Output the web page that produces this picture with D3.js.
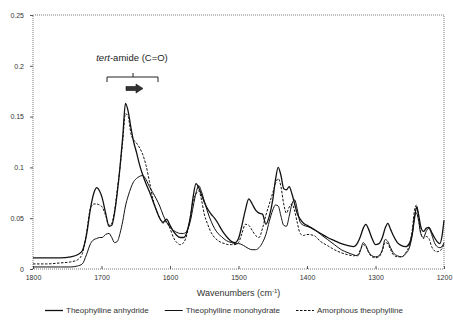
<!DOCTYPE html>
<html>
<head>
<meta charset="utf-8">
<script src="https://cdn.jsdelivr.net/npm/d3@7"></script>
<style>
  body { margin: 0; background: #fff; }
  svg { font-family: "Liberation Sans", Arial, sans-serif; }
  .axis text { fill: #333; font-size: 7px; }
  .axis line { stroke: #555; }
</style>
</head>
<body>
<div id="chart"></div>
<script>
// wavenumber grid (cm-1)
var wavenumbers = [1800, 1780, 1760, 1745, 1735, 1728, 1722, 1716, 1711, 1707, 1703, 1699, 1694, 1689, 1685, 1681, 1677, 1673, 1669, 1665,
  1661, 1657, 1653, 1649, 1645, 1640, 1635, 1630, 1625, 1620, 1615, 1610, 1605, 1600, 1595, 1590, 1585, 1580, 1575, 1570,
  1566, 1562, 1558, 1554, 1550, 1545, 1540, 1535, 1530, 1525, 1520, 1515, 1510, 1505, 1500, 1495, 1490, 1485, 1480, 1475,
  1470, 1465, 1460, 1455, 1450, 1446, 1442, 1438, 1434, 1430, 1426, 1422, 1418, 1414, 1410, 1405, 1400, 1390, 1380, 1370,
  1360, 1350, 1340, 1332, 1326, 1322, 1318, 1314, 1310, 1305, 1300, 1295, 1290, 1286, 1282, 1278, 1274, 1268, 1262, 1256,
  1250, 1246, 1243, 1240, 1237, 1234, 1230, 1226, 1222, 1218, 1214, 1210, 1206, 1203, 1200];

var anhydride = [.011, .011, .011, .012, .014, .018, .033, .060, .075, .080, .077, .070, .055, .042, .043, .055, .075, .100, .130, .163,
  .155, .139, .125, .115, .104, .093, .084, .076, .067, .058, .050, .046, .049, .043, .037, .033, .031, .031, .037, .052,
  .072, .084, .080, .073, .066, .059, .054, .050, .045, .039, .034, .030, .027, .026, .030, .043, .058, .069, .064, .058,
  .055, .054, .044, .052, .068, .088, .100, .092, .079, .078, .081, .074, .064, .054, .049, .045, .043, .039, .035, .031,
  .028, .025, .023, .022, .026, .032, .040, .044, .039, .030, .024, .025, .031, .040, .045, .039, .033, .026, .023, .022,
  .026, .036, .050, .061, .053, .042, .037, .040, .041, .036, .031, .027, .025, .032, .048];

var monohydrate = [.002, .002, .002, .002, .003, .005, .014, .025, .029, .030, .031, .031, .034, .035, .031, .026, .027, .035, .047, .062,
  .072, .080, .086, .089, .091, .092, .088, .081, .075, .069, .062, .053, .046, .041, .038, .036, .035, .035, .038, .048,
  .062, .075, .082, .076, .067, .056, .047, .040, .035, .032, .029, .027, .026, .025, .025, .024, .022, .020, .019, .019,
  .021, .026, .034, .047, .058, .063, .062, .052, .043, .042, .052, .064, .068, .058, .046, .043, .042, .039, .034, .029,
  .024, .019, .016, .014, .013, .018, .026, .023, .017, .013, .012, .013, .019, .029, .027, .021, .016, .013, .012, .015,
  .022, .035, .052, .055, .047, .035, .031, .037, .040, .034, .026, .022, .021, .022, .026];

var amorphous = [.005, .005, .006, .007, .009, .015, .035, .060, .064, .064, .063, .061, .053, .043, .045, .057, .078, .100, .126, .153,
  .150, .133, .127, .124, .120, .113, .102, .086, .069, .058, .050, .045, .047, .040, .031, .026, .024, .026, .035, .053,
  .068, .074, .077, .068, .054, .044, .036, .031, .028, .026, .025, .024, .024, .024, .026, .035, .044, .043, .038, .033,
  .031, .040, .053, .064, .075, .084, .089, .081, .064, .055, .061, .064, .057, .045, .035, .033, .034, .033, .027, .023,
  .019, .016, .014, .013, .014, .019, .024, .022, .016, .012, .011, .012, .018, .026, .025, .019, .014, .012, .012, .016,
  .025, .040, .058, .063, .050, .036, .030, .032, .030, .022, .018, .017, .018, .020, .025];

var xTicks = [1800, 1700, 1600, 1500, 1400, 1300, 1200];
var yTicks = [0, 0.05, 0.1, 0.15, 0.2, 0.25];
var yTickLabels = ["0", "0.05", "0.1", "0.15", "0.2", "0.25"];

var seriesNames = ["Theophylline anhydride", "Theophylline monohydrate", "Amorphous theophylline"];

var W = 453, H = 323;
var svg = d3.select("#chart").append("svg").attr("width", W).attr("height", H);

var x = d3.scaleLinear().domain([1800, 1200]).range([33, 444]);
var y = d3.scaleLinear().domain([0, 0.25]).range([269, 15]);

// plot area frame (dotted like the scan)
svg.append("rect")
    .attr("x", x(1800)).attr("y", y(0.25))
    .attr("width", x(1200) - x(1800)).attr("height", y(0) - y(0.25))
    .attr("fill", "none").attr("stroke", "#555").attr("stroke-width", 0.8)
    .attr("stroke-dasharray", "1,1");

var yAxis = svg.append("g").attr("class", "axis")
    .attr("transform", "translate(" + x(1800) + ",0)")
    .call(d3.axisLeft(y).tickValues(yTicks).tickSize(3).tickPadding(6)
        .tickFormat(function(d, i) { return yTickLabels[i]; }));
yAxis.select(".domain").remove();

var xAxis = svg.append("g").attr("class", "axis")
    .attr("transform", "translate(0," + y(0) + ")")
    .call(d3.axisBottom(x).tickValues(xTicks).tickSize(-3).tickPadding(6)
        .tickFormat(d3.format("d")));
xAxis.select(".domain").remove();

// series
var series = [
  {name: seriesNames[0], values: anhydride, width: 1.3, dash: null},
  {name: seriesNames[1], values: monohydrate, width: 1.0, dash: null},
  {name: seriesNames[2], values: amorphous, width: 1.0, dash: "2.5,1.5"}
];

var line = d3.line()
    .x(function(d) { return x(d[0]); })
    .y(function(d) { return y(d[1]); })
    .curve(d3.curveMonotoneX);

svg.append("g").selectAll("path")
    .data(series)
    .enter().append("path")
    .attr("d", function(s) { return line(wavenumbers.map(function(w, i) { return [w, s.values[i]]; })); })
    .attr("fill", "none")
    .attr("stroke", "#111")
    .attr("stroke-width", function(s) { return s.width; })
    .attr("stroke-dasharray", function(s) { return s.dash; });

// axis title
var title = svg.append("text")
    .attr("x", (x(1800) + x(1200)) / 2).attr("y", 296)
    .attr("text-anchor", "middle").attr("font-size", 9).attr("fill", "#333");
title.append("tspan").text("Wavenumbers (cm");
title.append("tspan").attr("font-size", 6).attr("dy", -3).text("-1");
title.append("tspan").attr("dy", 3).text(")");

// annotation
var ann = svg.append("text")
    .attr("x", 132).attr("y", 61)
    .attr("text-anchor", "middle").attr("font-size", 9.5).attr("fill", "#222");
ann.append("tspan").attr("font-style", "italic").text("tert");
ann.append("tspan").text("-amide (C=O)");

svg.append("path")
    .attr("d", "M107,82 L107,77 L158,77 L158,82 M133,77 L133,73")
    .attr("fill", "none").attr("stroke", "#222").attr("stroke-width", 1);

svg.append("path")
    .attr("d", "M126,86.5 L136,86.5 L136,84 L143,88.5 L136,93 L136,90.5 L126,90.5 Z")
    .attr("fill", "#333").attr("stroke", "#111").attr("stroke-width", 0.6);

// legend
var legend = svg.append("g").attr("transform", "translate(0,313)");
var lx = 45;
series.forEach(function(s) {
    legend.append("line")
        .attr("x1", lx).attr("x2", lx + 18).attr("y1", -2.5).attr("y2", -2.5)
        .attr("stroke", "#111").attr("stroke-width", s.width)
        .attr("stroke-dasharray", s.dash);
    var t = legend.append("text")
        .attr("x", lx + 21).attr("y", 0)
        .attr("font-size", 8).attr("fill", "#333")
        .text(s.name);
    lx += 21 + t.node().getComputedTextLength() + 16;
});
</script>
</body>
</html>
